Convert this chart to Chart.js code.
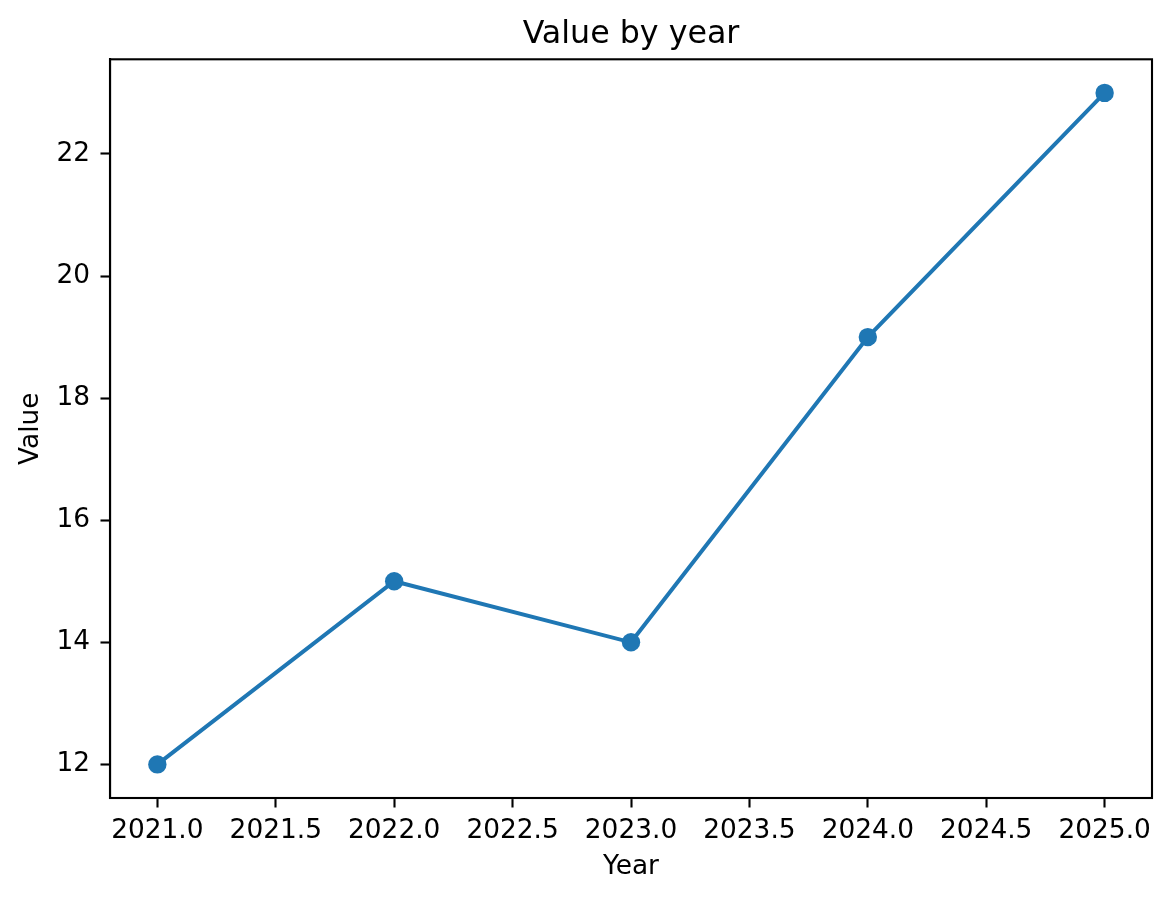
<!DOCTYPE html>
<html>
<head>
<meta charset="utf-8">
<script src="https://cdn.jsdelivr.net/npm/chart.js@4.4.1/dist/chart.umd.min.js"></script>
<style>
  html, body { margin: 0; padding: 0; background: #fff; }
  #wrap { width: 1170px; height: 900px; }
</style>
</head>
<body>
<div id="wrap"><canvas id="value_chart" width="1170" height="900"></canvas></div>
<script>
const years = [2021, 2022, 2023, 2024, 2025];
const values = [12, 15, 14, 19, 23];
const x_ticks = [2021.0, 2021.5, 2022.0, 2022.5, 2023.0, 2023.5, 2024.0, 2024.5, 2025.0];
const y_ticks = [12, 14, 16, 18, 20, 22];
const chart_title = "Value by year";

const line_color = "#1f77b4";
const font_family = "'DejaVu Sans', sans-serif";
const tick_font = 26.4;

// axes frame on all four sides, and the title centred over the axes (matplotlib style)
const frame_plugin = {
  id: "frame",
  afterDatasetsDraw(chart) {
    const { ctx, chartArea } = chart;
    ctx.save();
    ctx.strokeStyle = "#000";
    ctx.lineWidth = 2.1;
    ctx.strokeRect(chartArea.left, chartArea.top,
      chartArea.right - chartArea.left, chartArea.bottom - chartArea.top);
    ctx.fillStyle = "#000";
    ctx.font = "31.7px " + font_family;
    ctx.textAlign = "center";
    ctx.textBaseline = "alphabetic";
    ctx.fillText(chart_title, (chartArea.left + chartArea.right) / 2, 43);
    ctx.restore();
  },
};

const value_ctx = document.getElementById("value_chart");

const value_chart = new Chart(value_ctx, {
  type: "line",
  data: {
    datasets: [
      {
        data: years.map((yr, i) => ({ x: yr, y: values[i] })),
        borderColor: line_color,
        backgroundColor: line_color,
        borderWidth: 4,
        pointRadius: 9.2,
        pointBorderWidth: 0,
        pointBackgroundColor: line_color,
        tension: 0,
        clip: false,
      },
    ],
  },
  plugins: [frame_plugin],
  options: {
    responsive: false,
    devicePixelRatio: 1,
    animation: false,
    layout: {
      padding: { left: 0, right: 18, top: 59.3, bottom: 0 },
    },
    plugins: {
      legend: { display: false },
      tooltip: { enabled: false },
      title: { display: false },
    },
    scales: {
      x: {
        type: "linear",
        min: 2020.8,
        max: 2025.2,
        afterBuildTicks: (scale) => {
          scale.ticks = x_ticks.map((v) => ({ value: v }));
        },
        afterFit: (scale) => {
          scale.height = 102;
        },
        ticks: {
          color: "#000",
          font: { family: font_family, size: tick_font },
          padding: 8,
          maxRotation: 0,
          autoSkip: false,
          callback: (v) => Number(v).toFixed(1),
        },
        grid: {
          drawOnChartArea: false,
          drawTicks: true,
          tickLength: 9.5,
          tickColor: "#000",
          tickWidth: 2.1,
        },
        border: { display: true, color: "#000", width: 2.1 },
        title: {
          display: true,
          text: "Year",
          color: "#000",
          font: { family: font_family, size: tick_font },
          padding: { top: 0, bottom: 17 },
        },
      },
      y: {
        type: "linear",
        min: 11.45,
        max: 23.55,
        afterBuildTicks: (scale) => {
          scale.ticks = y_ticks.map((v) => ({ value: v }));
        },
        afterFit: (scale) => {
          scale.width = 110;
        },
        ticks: {
          color: "#000",
          font: { family: font_family, size: tick_font },
          padding: 10.5,
          autoSkip: false,
        },
        grid: {
          drawOnChartArea: false,
          drawTicks: true,
          tickLength: 9.5,
          tickColor: "#000",
          tickWidth: 2.1,
        },
        border: { display: true, color: "#000", width: 2.1 },
        title: {
          display: true,
          text: "Value",
          color: "#000",
          font: { family: font_family, size: tick_font },
          padding: { top: 15, bottom: 0 },
        },
      },
    },
  },
});
</script>
</body>
</html>
